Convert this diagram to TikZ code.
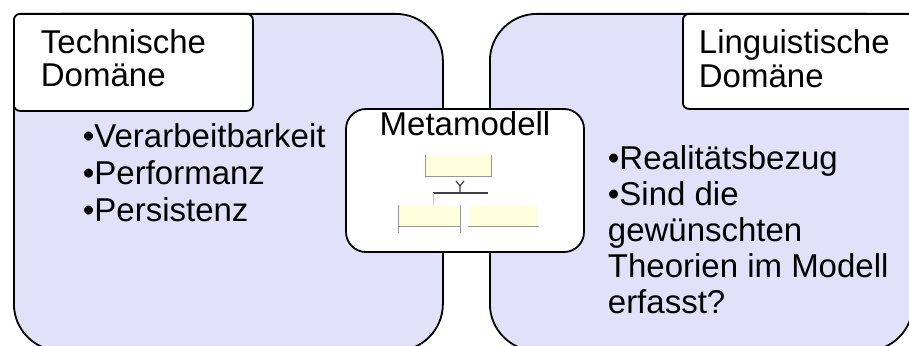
\documentclass[tikz,border=0pt]{standalone}
\usepackage{fontspec}
\setmainfont{Liberation Sans}
\usetikzlibrary{positioning}
\definecolor{areafill}{RGB}{225,225,250}
\definecolor{umlfill}{RGB}{255,255,222}
\definecolor{umlgray}{RGB}{150,150,150}

\begin{document}
\begin{tikzpicture}[x=1pt, y=-1pt, line width=1.8pt, font=\fontsize{33}{37}\selectfont,
    domainarea/.style={draw, fill=areafill, rounded corners=47pt, anchor=north west},
    labelbox/.style={draw, fill=white, rounded corners=6pt, anchor=north west},
    listtext/.style={anchor=north west, inner sep=0pt, align=left},
    umlbox/.style={fill=umlfill, inner sep=0pt, anchor=north west},
    umlline/.style={draw=umlgray, line width=1pt}]
            \clip (0, 0) rectangle (909, 345);
            \fill[white] (0, 0) rectangle (909, 345);
            \node[domainarea, minimum width=429pt, minimum height=337pt] (tech) at (13, 13) {};
            \node[domainarea, minimum width=423pt, minimum height=337pt] (ling) at (489, 13) {};

            \node[labelbox, minimum width=239pt, minimum height=97pt] (techbox) at (13, 13) {};
            \node[listtext, font=\fontsize{33}{33}\selectfont] (techlabel) at (40, 29) {Technische\\Domäne};
            \node[labelbox, minimum width=240pt, minimum height=95pt] (lingbox) at (682, 13) {};
            \node[listtext, font=\fontsize{33}{34}\selectfont] (linglabel) at (698, 29) {Linguistische\\Domäne};

            \node[listtext] (techlist) at (82, 123) {•Verarbeitbarkeit\\•Performanz\\•Persistenz};
            \node[listtext, font=\fontsize{33}{36}\selectfont] (linglist) at (607, 145) {•Realitätsbezug\\•Sind die\\gewünschten\\Theorien im Modell\\erfasst?};

            % metamodel in the middle
            \node[draw, fill=white, rounded corners=20pt, minimum width=238pt, minimum height=143pt] (meta) at (465, 180.5) {};
            \node[inner sep=0pt, anchor=north, below=3pt of meta.north] (metalabel) {Metamodell};

            \node[umlbox, minimum width=65pt, minimum height=20pt] (top) at (425, 155) {};
            \draw[umlline] (top.north west) -- (top.south west) -- (top.south east) -- (top.north east);
            \node[umlbox, minimum width=61pt, minimum height=20pt] (left) at (398, 205) {};
            \draw[umlline] (left.north west) -- ++(0, 28) (left.north east) -- ++(0, 28) (left.south west) -- (left.south east);
            \node[umlbox, minimum width=69pt, minimum height=20pt] (right) at (468, 205) {};
            \draw[umlline] (right.south west) -- (right.south east);
            \coordinate (bar) at (460, 193);
            \draw[line width=2pt, black!75] (433, 193) -- (488, 193);
            \draw[line width=1.2pt, black!75] (bar) -- ++(0, -7) -- ++(-4, -5) ++(4, 5) -- ++(4, -5);
            \draw[line width=0.6pt, umlgray!50] (433, 193) -- (433, 205);
        \end{tikzpicture}
\end{document}
